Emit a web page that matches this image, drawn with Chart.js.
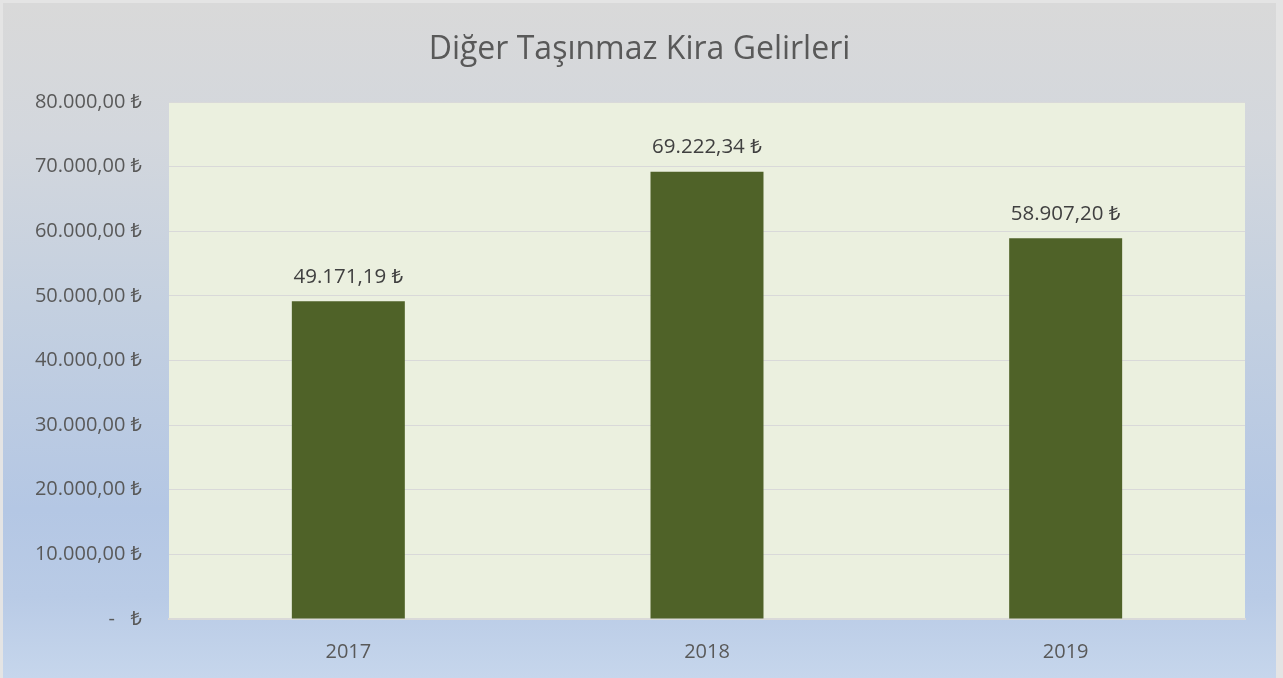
<!DOCTYPE html>
<html>
<head>
<meta charset="utf-8">
<script src="https://cdn.jsdelivr.net/npm/chart.js@4/dist/chart.umd.min.js"></script>
<style>
  html, body { margin: 0; padding: 0; background: #E4E4E4; }
  #wrap {
    position: absolute; left: 3px; top: 3px; width: 1273px; height: 675px;
    background: linear-gradient(to bottom, #D9D9D9 0%, #D3D7DD 20%, #C4D0E0 45%, #B4C7E4 75%, #B9CBE6 88%, #C6D6EC 100%);
  }
  canvas { display: block; }
</style>
</head>
<body>
<div id="wrap"><canvas id="c" width="1273" height="675"></canvas></div>
<script>
const categories = ["2017", "2018", "2019"];
const values = [49171.19, 69222.34, 58907.20];
const yTicks = [0, 10000, 20000, 30000, 40000, 50000, 60000, 70000, 80000];
const titleText = "Diğer Taşınmaz Kira Gelirleri";

const FONT = "'Open Sans', 'Noto Sans', 'DejaVu Sans', sans-serif";

function fmtTL(v) {
  if (v === 0) return "-   \u20BA";
  const s = v.toLocaleString('tr-TR', { minimumFractionDigits: 2, maximumFractionDigits: 2 });
  return s + " \u20BA";
}

const plotBg = {
  id: 'plotBg',
  beforeDraw(chart) {
    const { ctx, chartArea: a } = chart;
    ctx.save();
    ctx.fillStyle = '#EBF0DF';
    ctx.fillRect(a.left, a.top, a.right - a.left, a.bottom - a.top);
    ctx.restore();
  }
};

const dataLabels = {
  id: 'dataLabels',
  afterDatasetsDraw(chart) {
    const { ctx } = chart;
    const meta = chart.getDatasetMeta(0);
    ctx.save();
    ctx.font = "20.5px " + FONT;
    ctx.fillStyle = '#404040';
    ctx.textAlign = 'center';
    ctx.textBaseline = 'middle';
    meta.data.forEach((bar, i) => {
      ctx.fillText(fmtTL(values[i]), bar.x, bar.y - 24);
    });
    ctx.restore();
  }
};

new Chart(document.getElementById('c'), {
  type: 'bar',
  data: {
    labels: categories,
    datasets: [{
      data: values,
      backgroundColor: '#4F6228',
      borderWidth: 0,
      categoryPercentage: 1,
      barPercentage: 0.315
    }]
  },
  options: {
    responsive: false,
    animation: false,
    devicePixelRatio: 1,
    layout: { padding: { left: 0, right: 0, top: 0, bottom: 0 } },
    plugins: {
      legend: { display: false },
      tooltip: { enabled: false },
      title: {
        display: true,
        text: titleText,
        color: '#595959',
        font: { family: FONT, size: 32, weight: 'normal', lineHeight: 1.2 },
        padding: { top: 28, bottom: 32.6 }
      }
    },
    scales: {
      x: {
        grid: { display: false, drawTicks: false },
        border: { display: true, color: '#D9D9D9', width: 2 },
        ticks: { color: '#595959', font: { family: FONT, size: 20 }, padding: 21 },
        afterFit(s) { s.height = 59; }
      },
      y: {
        min: 0, max: 80000,
        afterBuildTicks(s) { s.ticks = yTicks.map(v => ({ value: v })); },
        grid: { color: '#D9D9D9', lineWidth: 1, drawTicks: false },
        border: { display: false },
        ticks: {
          color: '#595959',
          font: { family: FONT, size: 20 },
          padding: 27,
          callback: (v) => fmtTL(v)
        },
        afterFit(s) { s.width = 166; }
      },
      yRight: {
        position: 'right',
        display: true,
        min: 0, max: 80000,
        grid: { display: false, drawTicks: false },
        border: { display: false },
        ticks: { display: false },
        afterFit(s) { s.width = 31; }
      }
    }
  },
  plugins: [plotBg, dataLabels]
});
</script>
</body>
</html>
